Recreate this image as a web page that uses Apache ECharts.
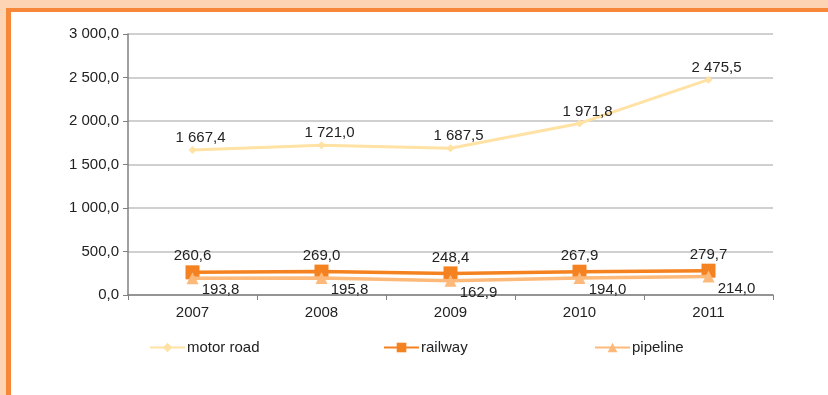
<!DOCTYPE html>
<html>
<head>
<meta charset="utf-8">
<script src="https://cdn.jsdelivr.net/npm/echarts@6/dist/echarts.min.js"></script>
<style>
  html, body { margin: 0; padding: 0; }
  body { width: 828px; height: 395px; background: #fdd4b4; position: relative; overflow: hidden; }
  #frame { position: absolute; left: 6px; top: 8px; right: 0; bottom: 0;
           background: #ffffff; border-left: 5px solid #f7883a; border-top: 4px solid #f7883a; }
  #chart { position: absolute; left: 0; top: 0; width: 828px; height: 395px; }
</style>
</head>
<body>
<div id="frame"></div>
<div id="chart"></div>
<script>
// Freight volumes by mode of transport, 2007–2011
const years = ['2007', '2008', '2009', '2010', '2011'];
const motorRoad = [1667.4, 1721.0, 1687.5, 1971.8, 2475.5];
const railway = [260.6, 269.0, 248.4, 267.9, 279.7];
const pipeline = [193.8, 195.8, 162.9, 194.0, 214.0];
const yTicks = [0, 500, 1000, 1500, 2000, 2500, 3000];

// "1 667,4" style: space as thousands separator, comma as decimal mark
function fmt(v) {
  const parts = Number(v).toFixed(1).split('.');
  return parts[0].replace(/\B(?=(\d{3})+(?!\d))/g, ' ') + ',' + parts[1];
}

const FONT = 'Liberation Sans, Arial, sans-serif';
const FS = 15;
const textStyle = { fontFamily: FONT, fontSize: FS, color: '#222' };

const chart = echarts.init(document.getElementById('chart'), null, { renderer: 'canvas' });

function legendAt(name, left) {
  return {
    data: [name], left: left, top: 340, padding: 0, itemWidth: 35, itemHeight: 12, itemGap: 0,
    textStyle: Object.assign({}, textStyle, { padding: [0, 0, 0, -3] }),
    selectedMode: false
  };
}

function valueLabel(offset) {
  return { show: true, position: 'inside', offset: offset, formatter: p => fmt(p.value),
           fontFamily: FONT, fontSize: FS, color: '#222' };
}

chart.setOption({
  backgroundColor: 'transparent',
  animation: false,
  textStyle: textStyle,
  grid: { left: 128, right: 55, top: 34, bottom: 100, containLabel: false },
  legend: [legendAt('motor road', 149), legendAt('railway', 383), legendAt('pipeline', 594)],
  xAxis: {
    type: 'category', data: years, boundaryGap: true,
    axisLine: { lineStyle: { color: '#808080', width: 1.5 } },
    axisTick: { show: true, length: 5, lineStyle: { color: '#808080' } },
    axisLabel: Object.assign({}, textStyle, { margin: 10 })
  },
  yAxis: {
    type: 'value', min: yTicks[0], max: yTicks[yTicks.length - 1], interval: 500,
    axisLine: { show: true, lineStyle: { color: '#808080', width: 1.5 } },
    axisTick: { show: true, length: 5, lineStyle: { color: '#808080' } },
    axisLabel: Object.assign({}, textStyle, { margin: 9, formatter: fmt }),
    splitLine: { lineStyle: { color: '#d0d0d0', width: 2 } }
  },
  series: [
    {
      name: 'motor road', type: 'line', data: motorRoad,
      symbol: 'diamond', symbolSize: 8,
      lineStyle: { color: '#ffe2a4', width: 3 },
      itemStyle: { color: '#ffe2a4' },
      label: valueLabel([8, -12]),
      z: 2
    },
    {
      name: 'railway', type: 'line', data: railway,
      symbol: 'rect', symbolSize: 14,
      lineStyle: { color: '#f58220', width: 3.5 },
      itemStyle: { color: '#f58220' },
      label: valueLabel([0, -16]),
      z: 3
    },
    {
      name: 'pipeline', type: 'line', data: pipeline,
      symbol: 'triangle', symbolSize: 12,
      lineStyle: { color: '#fdb97a', width: 3.5 },
      itemStyle: { color: '#fdb97a' },
      label: valueLabel([28, 12]),
      z: 4
    }
  ]
});
</script>
</body>
</html>
